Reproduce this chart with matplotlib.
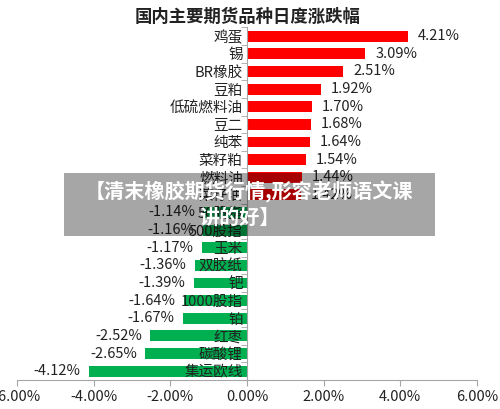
import numpy as np
import matplotlib
matplotlib.use("Agg")
import matplotlib.pyplot as plt
from matplotlib.patches import Rectangle
from matplotlib.ticker import FuncFormatter, FixedLocator

plt.rcParams['font.family'] = ['Noto Sans CJK SC', 'DejaVu Sans']

# 品种与日度涨跌幅 (%)
names = ["鸡蛋", "锡", "BR橡胶", "豆粕", "低硫燃料油", "豆二", "纯苯", "菜籽粕",
         "燃料油", "菜籽油", "50股指", "500股指", "玉米", "双胶纸", "钯",
         "1000股指", "铂", "红枣", "碳酸锂", "集运欧线"]
changes = [4.21, 3.09, 2.51, 1.92, 1.70, 1.68, 1.64, 1.54,
           1.44, 1.42, -1.14, -1.16, -1.17, -1.36, -1.39,
           -1.64, -1.67, -2.52, -2.65, -4.12]
xticks = [-6, -4, -2, 0, 2, 4, 6]

title = "国内主要期货品种日度涨跌幅"
watermark1 = "【清末橡胶期货行情,形容老师语文课"
watermark2 = "讲的好】"

fig = plt.figure(figsize=(5.0, 4.09), dpi=100)
ax = fig.add_axes([0.034, 0.071, 0.92, 0.862])

ypos = np.arange(len(names))
colors = ["#FF0000" if v > 0 else "#00B050" for v in changes]
ax.barh(ypos, changes, height=0.62, color=colors)

ax.set_ylim(len(names) - 0.5, -0.5)
ax.set_xlim(-6, 6)

# 数值标签
for y, v in zip(ypos, changes):
    if v > 0:
        ax.annotate(f"{v:.2f}%", (v, y), xytext=(7, 0), textcoords="offset points",
                    ha="left", va="center", fontsize=10.5, color="#222222")
    else:
        ax.annotate(f"{v:.2f}%", (v, y), xytext=(-6, 0), textcoords="offset points",
                    ha="right", va="center", fontsize=10.5, color="#222222")

# 坐标轴样式
for s in ["top", "right"]:
    ax.spines[s].set_visible(False)
ax.spines["left"].set_position(("data", 0))
ax.spines["left"].set_color("#A6A6A6")
ax.spines["bottom"].set_color("#A6A6A6")

ax.set_yticks(ypos)
ax.set_yticklabels(names, fontsize=10.5, color="#222222")
ax.tick_params(axis="y", which="major", length=0, pad=3)
ax.yaxis.set_minor_locator(FixedLocator(np.arange(-0.5, len(names), 1.0)))
ax.tick_params(axis="y", which="minor", length=4, color="#A6A6A6", direction="out")

ax.set_xticks(xticks)
ax.xaxis.set_major_formatter(FuncFormatter(lambda x, p: f"{x:.2f}%"))
ax.tick_params(axis="x", length=4, color="#A6A6A6", labelsize=10.5, labelcolor="#222222")

fig.text(0.496, 0.958, title, ha="center", va="center", fontsize=12.5,
         fontweight="bold", color="#222222")

# 半透明遮罩和文字
fig.patches.append(Rectangle((0.128, 0.423), 0.742, 0.154, transform=fig.transFigure,
                             facecolor="black", alpha=0.35, edgecolor="none", zorder=5))
fig.text(0.498, 0.531, watermark1, ha="center", va="center", fontsize=14.5,
         fontweight="bold", color="white", zorder=6)
fig.text(0.48, 0.469, watermark2, ha="center", va="center", fontsize=14.5,
         fontweight="bold", color="white", zorder=6)

fig.savefig("out.png", dpi=100)
